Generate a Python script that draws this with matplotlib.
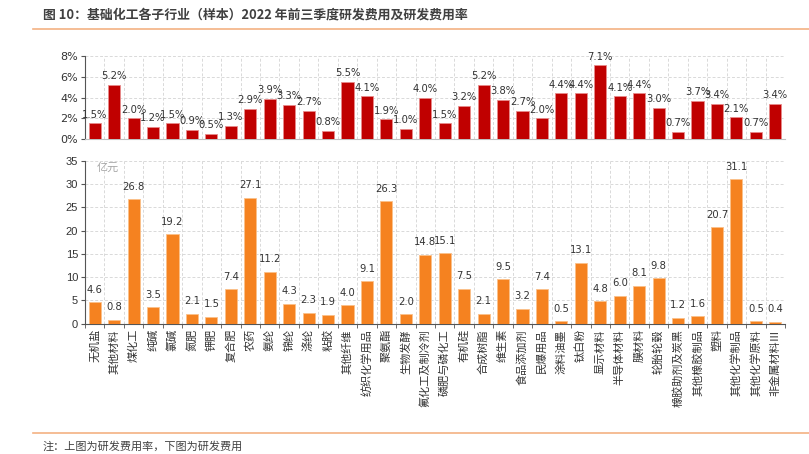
import matplotlib
matplotlib.use("Agg")
import matplotlib.pyplot as plt
import numpy as np
from matplotlib.lines import Line2D

plt.rcParams['font.family'] = ['Noto Sans CJK SC', 'DejaVu Sans']

categories = ["无机盐", "其他材料", "煤化工", "纯碱", "氯碱", "氮肥", "钾肥", "复合肥", "农药",
              "氨纶", "锦纶", "涤纶", "粘胶", "其他纤维", "纺织化学用品", "聚氨酯", "生物发酵",
              "氟化工及制冷剂", "磷肥与磷化工", "有机硅", "合成树脂", "维生素", "食品添加剂",
              "民爆用品", "涂料油墨", "钛白粉", "显示材料", "半导体材料", "膜材料", "轮胎轮毂",
              "橡胶助剂及炭黑", "其他橡胶制品", "塑料", "其他化学制品", "其他化学原料", "非金属材料Ⅲ"]
rd_rate = [1.5, 5.2, 2.0, 1.2, 1.5, 0.9, 0.5, 1.3, 2.9, 3.9, 3.3, 2.7, 0.8, 5.5, 4.1, 1.9, 1.0,
           4.0, 1.5, 3.2, 5.2, 3.8, 2.7, 2.0, 4.4, 4.4, 7.1, 4.1, 4.4, 3.0, 0.7, 3.7, 3.4, 2.1,
           0.7, 3.4]
rd_cost = [4.6, 0.8, 26.8, 3.5, 19.2, 2.1, 1.5, 7.4, 27.1, 11.2, 4.3, 2.3, 1.9, 4.0, 9.1, 26.3,
           2.0, 14.8, 15.1, 7.5, 2.1, 9.5, 3.2, 7.4, 0.5, 13.1, 4.8, 6.0, 8.1, 9.8, 1.2, 1.6,
           20.7, 31.1, 0.5, 0.4]
rate_ticks = [0, 2, 4, 6, 8]
cost_ticks = [0, 5, 10, 15, 20, 25, 30, 35]

W, H = 809, 454
fig = plt.figure(figsize=(W / 100, H / 100), dpi=100)

def fx(px):
    return px / W

def fy(py):
    return 1 - py / H

# title and decoration lines
fig.text(fx(43), fy(15), "图 10：基础化工各子行业（样本）2022 年前三季度研发费用及研发费用率",
         fontsize=9.3, fontweight='bold', color='#404040', va='center', ha='left')
fig.add_artist(Line2D([fx(33), 1.0], [fy(29), fy(29)], color='#f4b183', lw=1.2))
fig.add_artist(Line2D([fx(33), 1.0], [fy(433), fy(433)], color='#f4b183', lw=1.2))
fig.text(fx(43), fy(446), "注：上图为研发费用率，下图为研发费用", fontsize=8, color='#404040',
         va='center', ha='left')

x = np.arange(len(categories))
left, right = fx(85), fx(785)

# top axes: R&D rate
ax1 = fig.add_axes([left, fy(139), right - left, fy(56) - fy(139)])
ax1.bar(x, rd_rate, width=0.62, color='#c00000', edgecolor='#e88a8a', linewidth=0.6, zorder=3)
ax1.set_xlim(-0.5, len(categories) - 0.5)
ax1.set_ylim(0, 8)
ax1.set_yticks(rate_ticks)
ax1.set_yticklabels([f"{t}%" for t in rate_ticks], fontsize=8, family=['DejaVu Sans'], color='#333333')
ax1.set_xticks(x)
ax1.set_xticklabels([])
ax1.tick_params(axis='x', length=0)
ax1.set_xticks(np.arange(-0.5, len(categories), 1), minor=True)
ax1.tick_params(axis='x', which='minor', length=0)
ax1.tick_params(axis='y', length=3, color='#555555', pad=2)
ax1.grid(True, which='minor', axis='x', linestyle=(0, (3, 2)), color='#d9d9d9', lw=0.7, zorder=0)
ax1.grid(True, which='major', axis='y', linestyle=(0, (3, 2)), color='#d9d9d9', lw=0.7, zorder=0)
for s in ['top', 'right']:
    ax1.spines[s].set_visible(False)
ax1.spines['left'].set_color('#555555')
ax1.spines['bottom'].set_color('#bfbfbf')
for xi, v in zip(x, rd_rate):
    ax1.text(xi, v + 0.35, f"{v:.1f}%", ha='center', va='bottom', fontsize=7.2,
             family=['DejaVu Sans'], color='#333333', zorder=4)

# bottom axes: R&D cost
ax2 = fig.add_axes([left, fy(323.5), right - left, fy(161) - fy(323.5)])
ax2.bar(x, rd_cost, width=0.62, color='#f58220', edgecolor='#fbc08a', linewidth=0.6, zorder=3)
ax2.set_xlim(-0.5, len(categories) - 0.5)
ax2.set_ylim(0, 35)
ax2.set_yticks(cost_ticks)
ax2.set_yticklabels([str(t) for t in cost_ticks], fontsize=8, family=['Liberation Sans'], color='#333333')
ax2.set_xticks(x)
ax2.set_xticklabels(categories, rotation=90, fontsize=8, color='#333333')
ax2.tick_params(axis='x', which='major', length=0, pad=4)
ax2.set_xticks(np.arange(-0.5, len(categories), 1), minor=True)
ax2.tick_params(axis='x', which='minor', length=3, color='#555555')
ax2.tick_params(axis='y', length=3, color='#555555', pad=2)
ax2.grid(True, which='minor', axis='x', linestyle=(0, (3, 2)), color='#d9d9d9', lw=0.7, zorder=0)
ax2.grid(True, which='major', axis='y', linestyle=(0, (3, 2)), color='#d9d9d9', lw=0.7, zorder=0)
for s in ['top', 'right']:
    ax2.spines[s].set_visible(False)
ax2.spines['left'].set_color('#555555')
ax2.spines['bottom'].set_color('#555555')
for xi, v in zip(x, rd_cost):
    ax2.text(xi, v + 1.6, f"{v:.1f}", ha='center', va='bottom', fontsize=7.2,
             family=['DejaVu Sans'], color='#333333', zorder=4)
ax2.text(0.016, 0.99, "亿元", transform=ax2.transAxes, fontsize=8, color='#a6a6a6',
         ha='left', va='top')

fig.savefig("out.png", dpi=100)
